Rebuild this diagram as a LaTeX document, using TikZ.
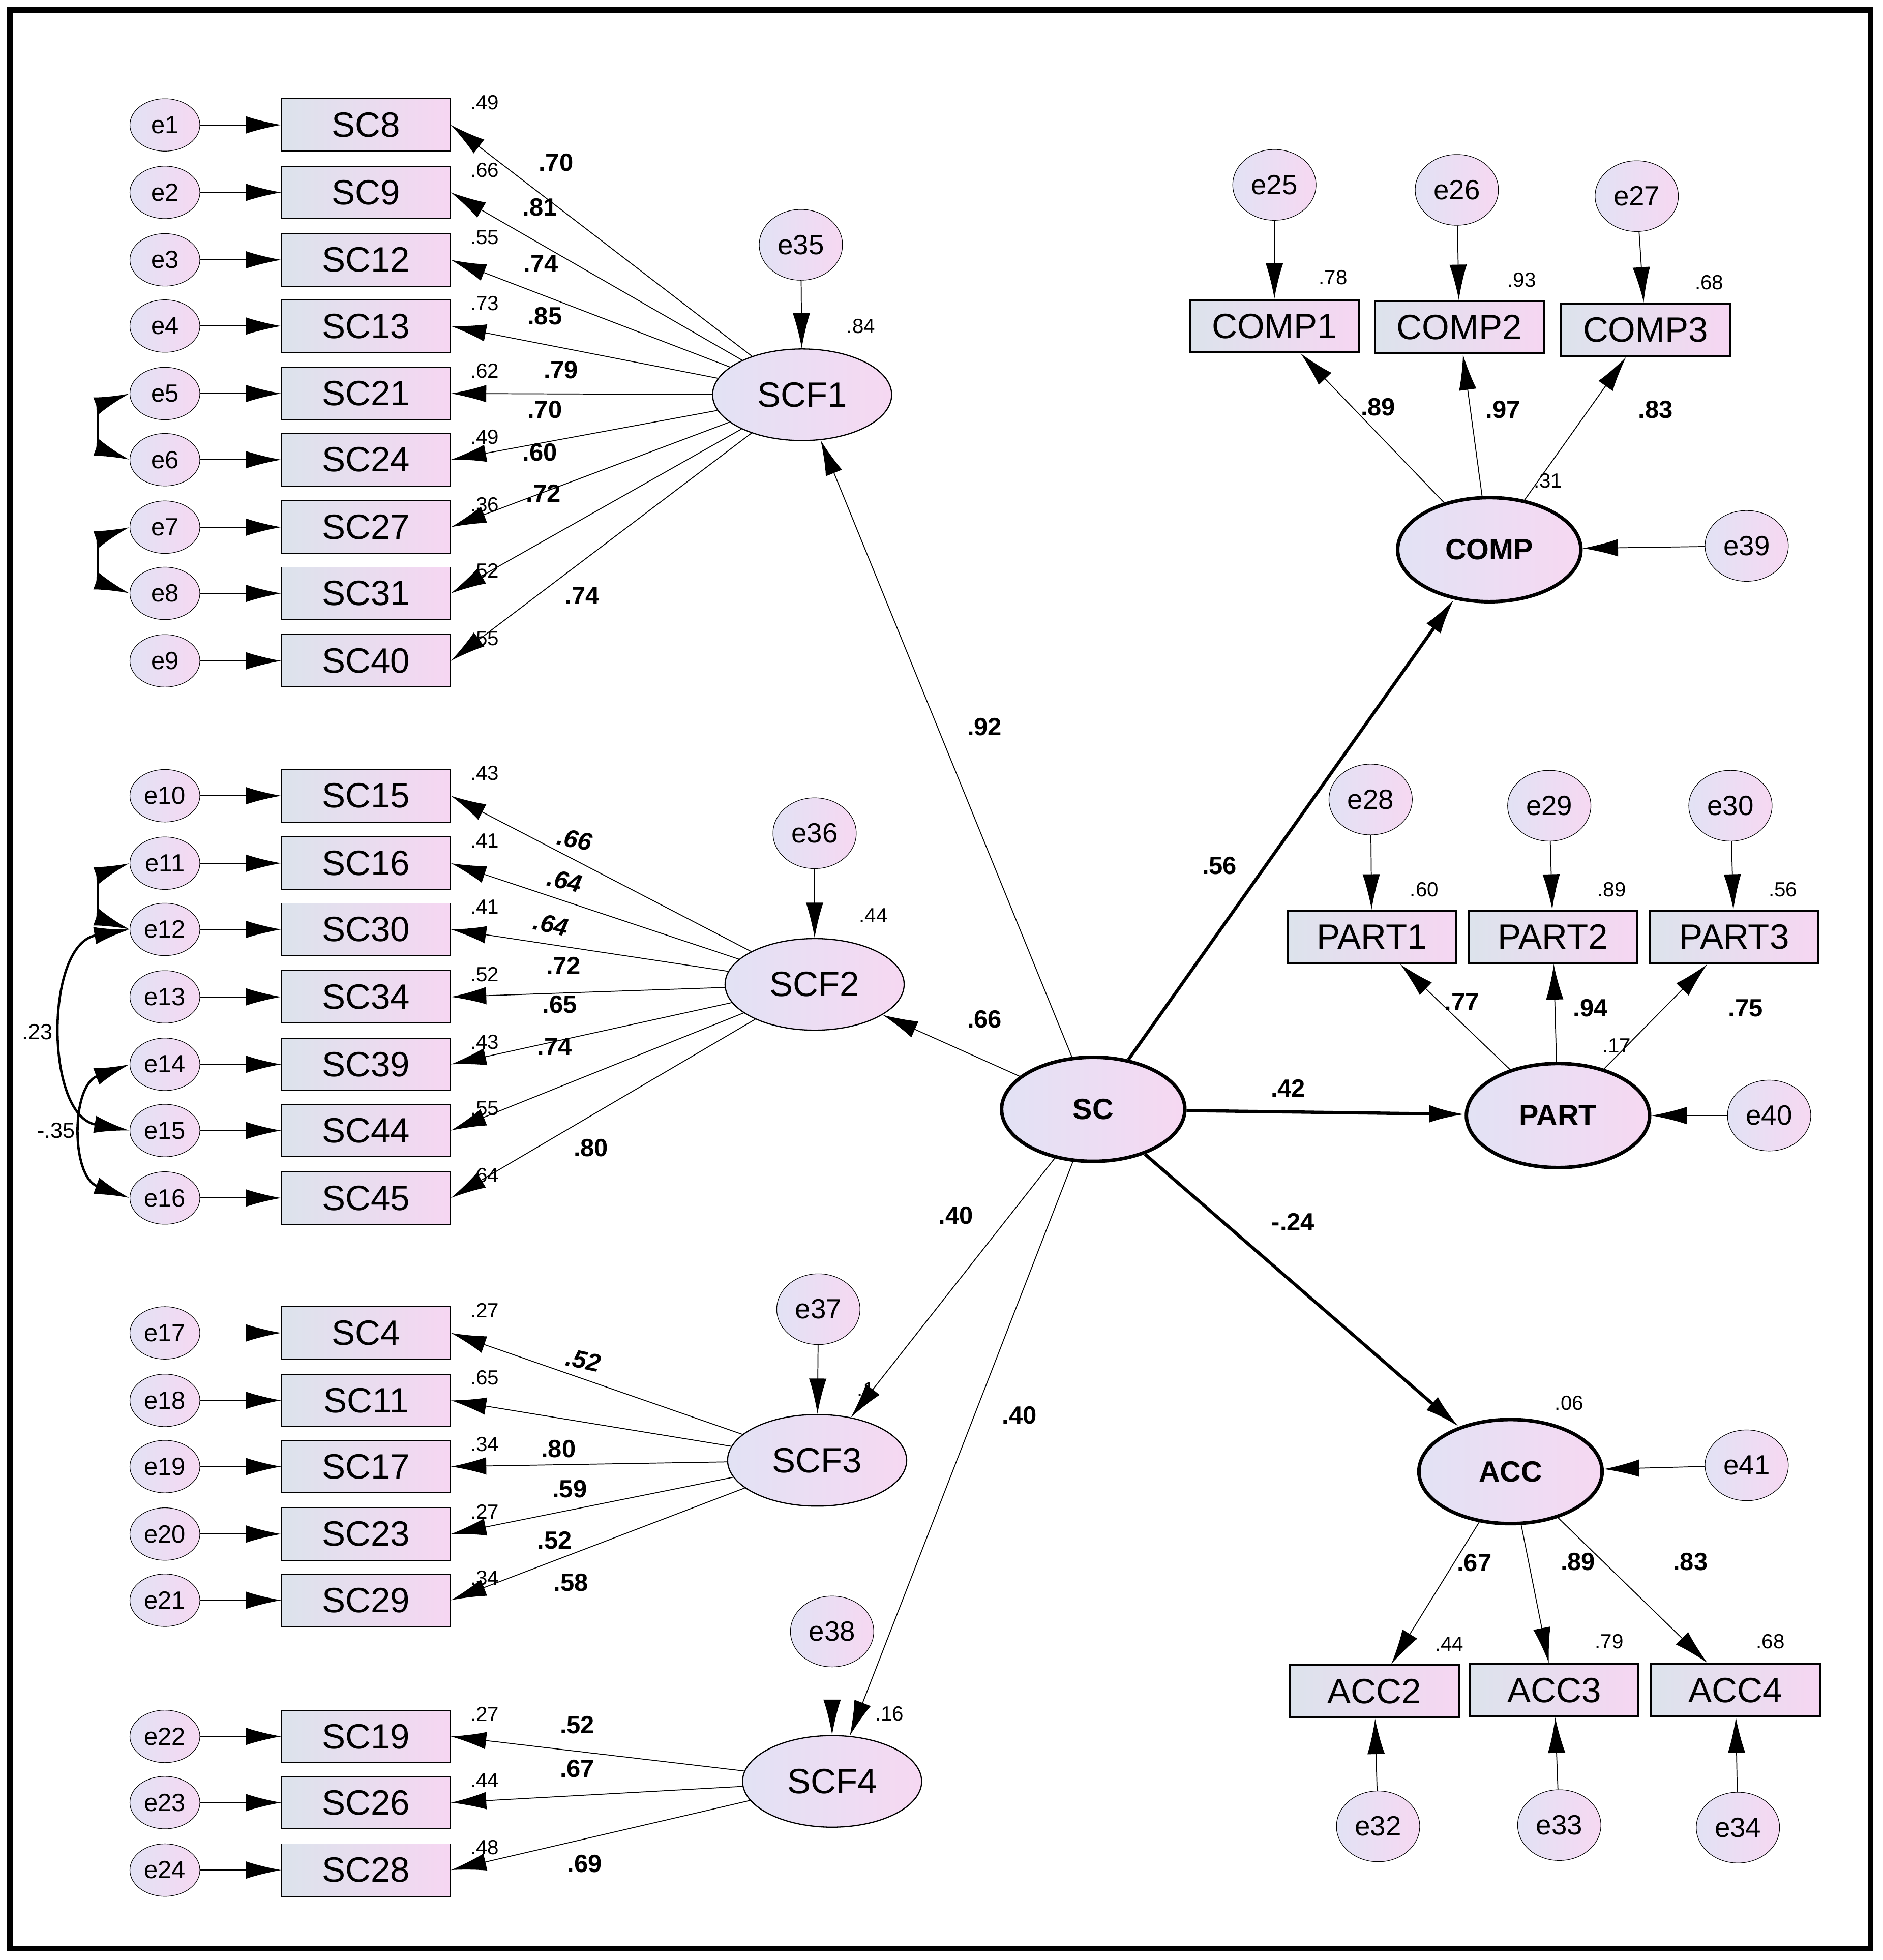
\documentclass[tikz,border=0pt]{standalone}
\usepackage{fontspec}
\setmainfont{Liberation Sans}
\usetikzlibrary{shapes.geometric,arrows.meta}
\definecolor{boxl}{HTML}{DCE3EC}
\definecolor{boxr}{HTML}{F6D6F2}
\definecolor{erl}{HTML}{E2E2F4}
\definecolor{err}{HTML}{F6D8F2}
\tikzset{
    x=0.3mm, y=-0.3mm,
    >={Latex[length=8.5mm,width=4.2mm]},
    every node/.style = {inner sep=0pt},
    err/.style = {draw, ellipse, minimum width=16.8mm, minimum height=12.6mm,
        left color=erl, right color=err, font=\fontsize{17}{20}\selectfont},
    obs/.style = {draw, line width=0.6pt, minimum width=40.5mm, minimum height=12.6mm,
        left color=boxl, right color=boxr, font=\fontsize{24}{28}\selectfont},
    obsb/.style = {obs, line width=1.4pt},
    lat/.style = {draw, ellipse, line width=0.8pt, minimum width=43mm, minimum height=22mm,
        left color=erl, right color=err, font=\fontsize{24}{28}\selectfont},
    latb/.style = {lat, line width=2.4pt, minimum width=44mm, minimum height=25mm,
        font=\bfseries\fontsize{20}{24}\selectfont},
    erb/.style = {err, minimum width=20mm, minimum height=17mm, font=\fontsize{19}{22}\selectfont},
    ld/.style = {font=\bfseries\fontsize{17}{20}\selectfont},
    rsq/.style = {font=\fontsize{14}{16}\selectfont},
    path/.style = {->, line width=0.6pt},
    pathb/.style = {->, line width=2.2pt},
    cov/.style = {<->, line width=1.6pt}
}
\begin{document}
\begin{tikzpicture}
    \useasboundingbox (0,0) rectangle (1507,1569);
    \draw[line width=1.3mm] (8,8) rectangle (1497,1560);

    % latent factors
    \node[lat] (SCF1) at (642,316) {SCF1};
    \node[lat] (SCF2) at (652,788) {SCF2};
    \node[lat] (SCF3) at (654,1169) {SCF3};
    \node[lat] (SCF4) at (666,1426) {SCF4};
    \node[latb] (SC) at (875,888) {SC};
    \node[latb] (COMP) at (1192,440) {COMP};
    \node[latb] (PART) at (1247,893) {PART};
    \node[latb] (ACC) at (1209,1178) {ACC};

    % disturbances
    \foreach \n/\x/\y/\t in {e35/641/196/SCF1, e36/652/667/SCF2, e37/655/1048/SCF3, e38/666/1306/SCF4}
        {\node[erb] (\n) at (\x,\y) {\n}; \draw[path] (\n) -- (\t);}
    \foreach \n/\x/\y/\t in {e39/1398/437/COMP, e40/1416/893/PART, e41/1398/1173/ACC}
        {\node[erb] (\n) at (\x,\y) {\n}; \draw[path] (\n) -- (\t);}

    % left indicators
    \foreach \i/\s/\y/\f/\r in {
        1/SC8/100/SCF1/.49, 2/SC9/154/SCF1/.66, 3/SC12/208/SCF1/.55,
        4/SC13/261/SCF1/.73, 5/SC21/315/SCF1/.62, 6/SC24/368/SCF1/.49,
        7/SC27/422/SCF1/.36, 8/SC31/475/SCF1/.52, 9/SC40/529/SCF1/.55,
        10/SC15/637/SCF2/.43, 11/SC16/691/SCF2/.41, 12/SC30/744/SCF2/.41,
        13/SC34/798/SCF2/.52, 14/SC39/852/SCF2/.43, 15/SC44/905/SCF2/.55,
        16/SC45/959/SCF2/.64,
        17/SC4/1067/SCF3/.27, 18/SC11/1121/SCF3/.65, 19/SC17/1174/SCF3/.34,
        20/SC23/1228/SCF3/.27, 21/SC29/1281/SCF3/.34,
        22/SC19/1390/SCF4/.27, 23/SC26/1443/SCF4/.44, 24/SC28/1497/SCF4/.48}
    {
        \node[err] (e\i) at (132,\y) {e\i};
        \node[obs] (\s) at (293,\y) {\s};
        \draw[path] (e\i) -- (\s);
        \draw[path] (\f) -- (\s.east);
        \node[rsq] at (388,\y-18) {\r};
    }
    % loadings, left side
    \foreach \lx/\ly/\l in {445/130/.70, 432/166/.81, 433/211/.74, 436/253/.85,
        449/296/.79, 436/328/.70, 432/362/.60, 435/395/.72, 466/477/.74,
        451/773/.72, 448/804/.65, 444/838/.74, 473/919/.80,
        447/1160/.80, 456/1192/.59, 444/1233/.52, 457/1267/.58,
        462/1381/.52, 462/1416/.67, 468/1492/.69}
        \node[ld] at (\lx,\ly) {\l};
    \foreach \lx/\ly/\l in {460/672/.66, 452/705/.64, 441/740/.64, 467/1089/.52}
        \node[ld, rotate=-12] at (\lx,\ly) {\textit{\l}};

    % covariances
    \draw[cov] (e5.west) to[out=200,in=160,looseness=1.3] (e6.west);
    \draw[cov] (e7.west) to[out=200,in=160,looseness=1.3] (e8.west);
    \draw[cov] (e11.west) to[out=200,in=160,looseness=1.3] (e12.west);
    \draw[cov] (e12.west) to[out=190,in=170,looseness=1.1] (e15.west);
    \draw[cov] (e14.west) to[out=200,in=160,looseness=1.2] (e16.west);
    \node[rsq, font=\fontsize{15}{18}\selectfont] at (30,826) {.23};
    \node[rsq, font=\fontsize{15}{18}\selectfont] at (45,905) {-.35};

    % structural paths
    \draw[path] (SC) -- (SCF1); \node[ld] at (788,582) {.92};
    \draw[path] (SC) -- (SCF2); \node[ld] at (788,816) {.66};
    \draw[path] (SC) -- (SCF3); \node[ld] at (765,973) {.40};
    \draw[path] (SC) -- (SCF4); \node[ld] at (816,1133) {.40};
    \draw[pathb] (SC) -- (COMP); \node[ld] at (976,693) {.56};
    \draw[pathb] (SC) -- (PART); \node[ld] at (1031,871) {.42};
    \draw[pathb] (SC) -- (ACC); \node[ld] at (1035,978) {-.24};
    \node[rsq] at (689,261) {.84};
    \node[rsq] at (699,733) {.44};
    \node[rsq] at (693,1112) {.1};
    \node[rsq] at (712,1372) {.16};
    \node[rsq] at (1239,385) {.31};
    \node[rsq] at (1294,837) {.17};
    \node[rsq] at (1256,1123) {.06};

    % right indicators
    \foreach \b/\x/\y/\e/\ex/\ey/\f/\r/\rx/\ry/\l/\lx/\ly in {
        COMP1/1020/261/e25/1020/148/COMP/.78/1067/222/.89/1103/326,
        COMP2/1168/262/e26/1166/152/COMP/.93/1218/224/.97/1203/328,
        COMP3/1317/264/e27/1310/157/COMP/.68/1368/226/.83/1325/328,
        PART1/1098/750/e28/1097/640/PART/.60/1140/712/.77/1170/802,
        PART2/1243/750/e29/1240/645/PART/.89/1290/712/.94/1273/807,
        PART3/1388/750/e30/1385/645/PART/.56/1427/712/.75/1397/807,
        ACC2/1100/1354/e32/1103/1462/ACC/.44/1160/1316/.67/1180/1251,
        ACC3/1244/1353/e33/1248/1461/ACC/.79/1288/1314/.89/1263/1250,
        ACC4/1389/1353/e34/1391/1463/ACC/.68/1417/1314/.83/1353/1250}
    {
        \node[obsb] (\b) at (\x,\y) {\b};
        \node[erb] (\e) at (\ex,\ey) {\e};
        \draw[path] (\e) -- (\b);
        \draw[path] (\f) -- (\b);
        \node[rsq] at (\rx,\ry) {\r};
        \node[ld] at (\lx,\ly) {\l};
    }
\end{tikzpicture}
\end{document}
